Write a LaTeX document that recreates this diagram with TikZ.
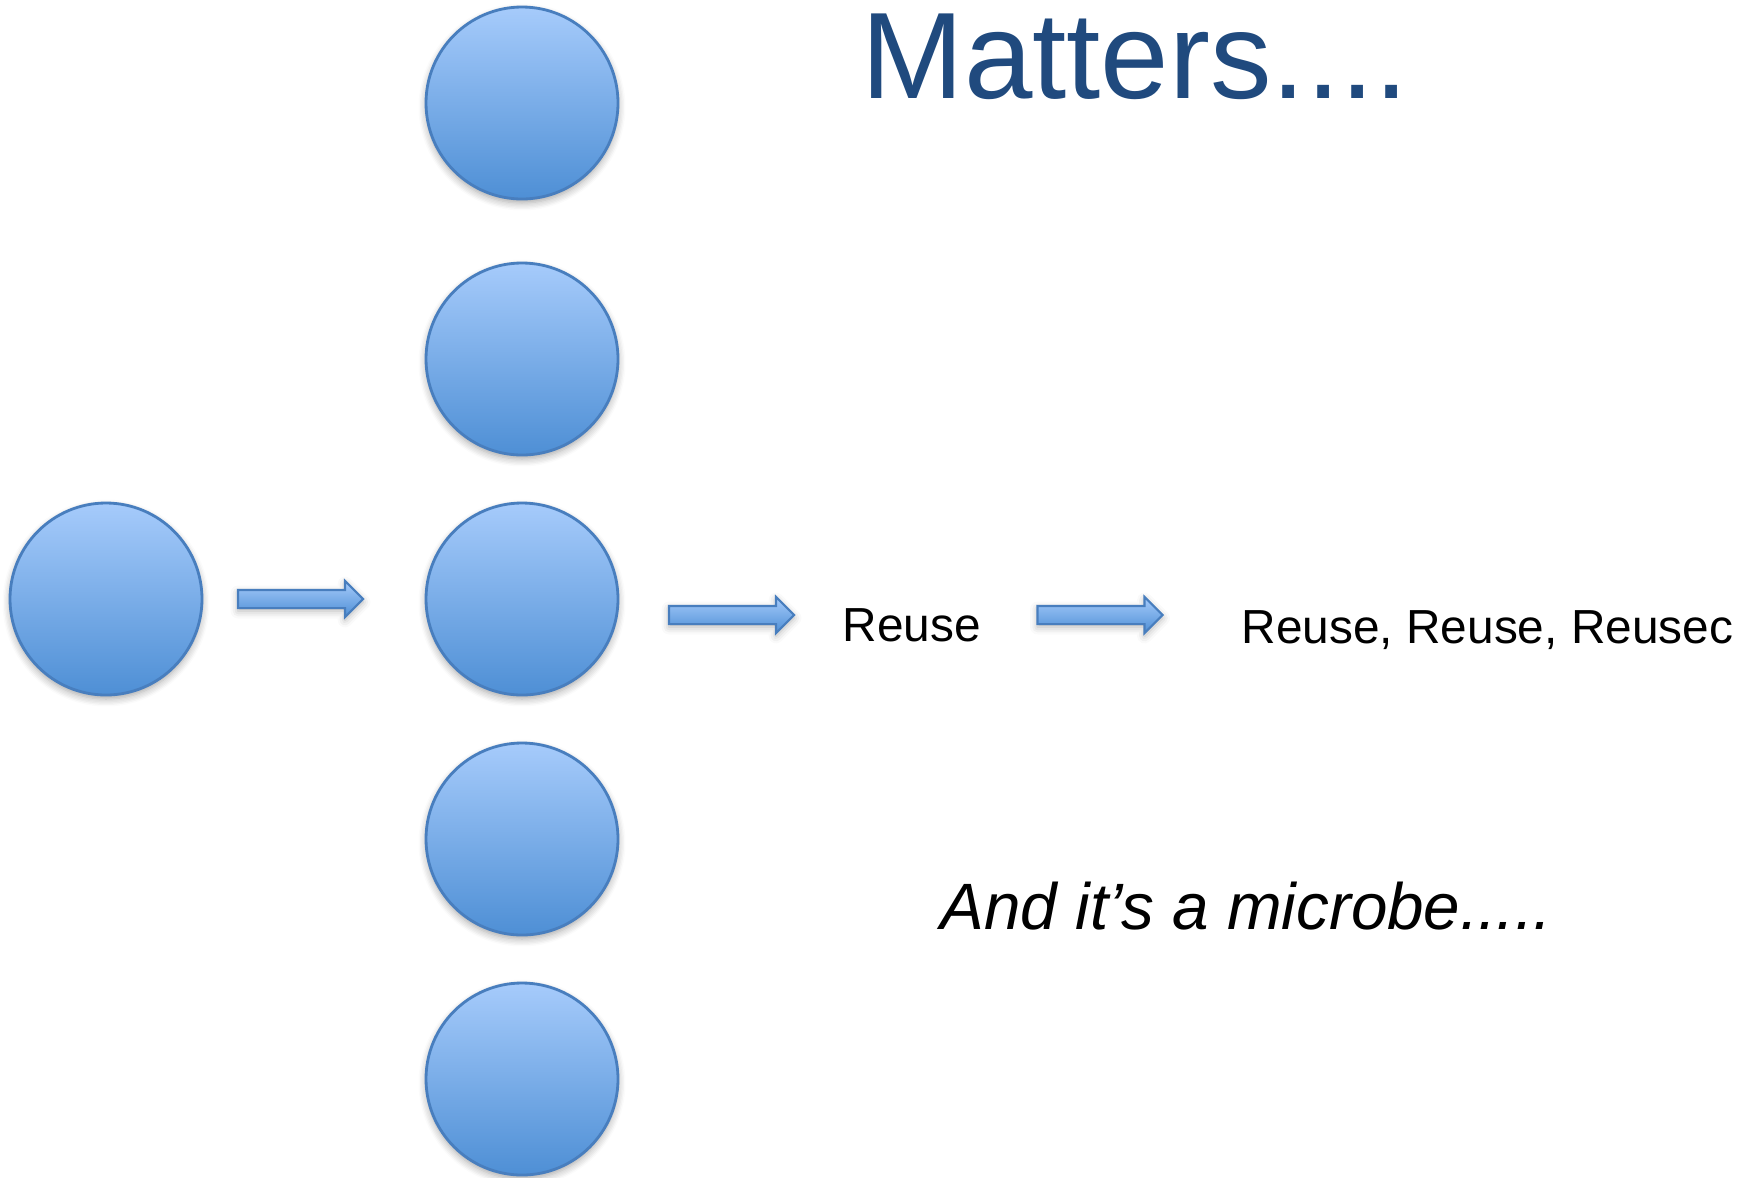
\documentclass[tikz,border=0pt]{standalone}
\usepackage{fontspec}
\setmainfont{Liberation Sans}
\usetikzlibrary{shapes.arrows,shadows.blur}
\definecolor{balltop}{RGB}{166,203,251}
\definecolor{ballbottom}{RGB}{78,143,213}
\definecolor{ballline}{RGB}{72,126,190}
\definecolor{titleblue}{RGB}{32,74,126}
\begin{document}
\begin{tikzpicture}[
  ball/.style={circle, minimum size=1.92cm, inner sep=0pt, draw=ballline, line width=0.8pt,
    top color=balltop, bottom color=ballbottom,
    blur shadow={shadow xshift=0pt, shadow yshift=-0.04cm, shadow blur steps=6, shadow opacity=35}},
  blockarrow/.style={single arrow, minimum height=1.25cm, inner sep=0.08cm,
    single arrow head extend=0.09cm, draw=ballline, line width=0.6pt,
    top color=balltop, bottom color=ballbottom,
    blur shadow={shadow xshift=0pt, shadow yshift=-0.03cm, shadow blur steps=4, shadow opacity=30}},
  label/.style={anchor=base west, inner sep=0pt, font=\fontsize{13.6}{16}\selectfont}
]
\useasboundingbox (0,0) rectangle (17.58,-11.77);
% Title
\node[anchor=base west, inner sep=0pt, text=titleblue, font=\fontsize{35}{40}\selectfont] (title) at (8.61,-0.98) {Matters....};
% The one microbe on the left
\node[ball] (single) at (1.06,-5.99) {};
% Column of microbes
\node[ball] (m1) at (5.22,-1.03) {};
\node[ball] (m2) at (5.22,-3.59) {};
\node[ball] (m3) at (5.22,-5.99) {};
\node[ball] (m4) at (5.22,-8.39) {};
\node[ball] (m5) at (5.22,-10.79) {};
% Block arrows
\node[blockarrow] (a1) at (2.96,-5.99) {};
\node[blockarrow] (a2) at (7.27,-6.15) {};
\node[blockarrow] (a3) at (10.955,-6.15) {};
% Texts on the right
\node[label] (reuse) at (8.42,-6.41) {Reuse};
\node[label] (reusemany) at (12.41,-6.43) {Reuse, Reuse, Reusec};
\node[anchor=base west, inner sep=0pt, font=\itshape\fontsize{18.65}{22}\selectfont] (microbe) at (9.40,-9.29) {And it’s a microbe.....};
\end{tikzpicture}
\end{document}
